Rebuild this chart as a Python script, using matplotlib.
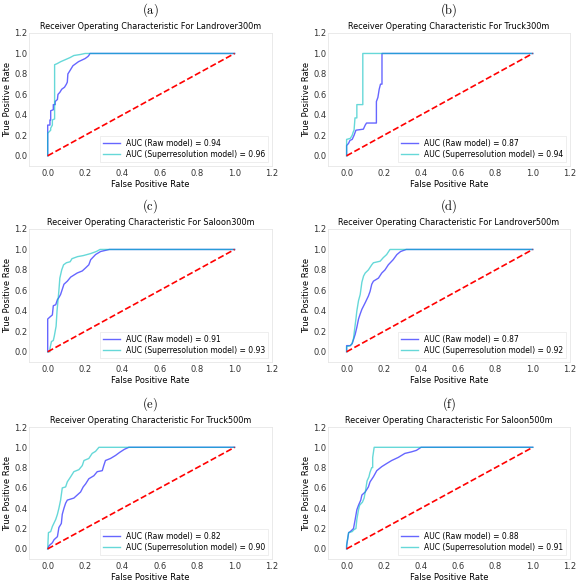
import matplotlib
matplotlib.use("Agg")
import matplotlib.pyplot as plt

panel_labels = ["(a)", "(b)", "(c)", "(d)", "(e)", "(f)"]
targets = ["Landrover300m", "Truck300m", "Saloon300m", "Landrover500m", "Truck500m", "Saloon500m"]
auc_raw = [0.94, 0.87, 0.91, 0.87, 0.82, 0.88]
auc_sr = [0.96, 0.94, 0.93, 0.92, 0.90, 0.91]

# (a) Landrover300m
fpr_raw_a = [0, 0, 0.012, 0.012, 0.016, 0.016, 0.03, 0.03, 0.04, 0.04, 0.052, 0.055, 0.065, 0.075, 0.09, 0.1, 0.105, 0.108, 0.115, 0.125, 0.135, 0.15, 0.165, 0.2, 0.215, 0.22, 0.226, 1]
tpr_raw_a = [0, 0.30, 0.30, 0.35, 0.35, 0.44, 0.45, 0.5, 0.5, 0.53, 0.55, 0.6, 0.62, 0.65, 0.67, 0.7, 0.72, 0.8, 0.82, 0.85, 0.88, 0.9, 0.92, 0.95, 0.97, 0.98, 1.0, 1]
fpr_sr_a = [0, 0, 0.016, 0.016, 0.025, 0.025, 0.037, 0.037, 0.05, 0.07, 0.095, 0.12, 0.14, 0.175, 0.2, 1]
tpr_sr_a = [0, 0.22, 0.25, 0.27, 0.3, 0.35, 0.36, 0.89, 0.9, 0.92, 0.94, 0.96, 0.98, 0.99, 1.0, 1]

# (b) Truck300m
fpr_raw_b = [0, 0, 0.01, 0.018, 0.03, 0.04, 0.05, 0.09, 0.1, 0.107, 0.16, 0.16, 0.168, 0.175, 0.182, 0.19, 0.19, 1]
tpr_raw_b = [0, 0.1, 0.12, 0.15, 0.16, 0.2, 0.25, 0.26, 0.3, 0.32, 0.32, 0.53, 0.57, 0.65, 0.7, 0.7, 1.0, 1]
fpr_sr_b = [0, 0, 0.02, 0.03, 0.035, 0.04, 0.045, 0.055, 0.055, 0.087, 0.087, 1]
tpr_sr_b = [0, 0.16, 0.17, 0.2, 0.23, 0.25, 0.37, 0.37, 0.5, 0.5, 1.0, 1]

# (c) Saloon300m
fpr_raw_c = [0, 0, 0.012, 0.025, 0.03, 0.043, 0.052, 0.06, 0.069, 0.078, 0.087, 0.105, 0.123, 0.158, 0.185, 0.203, 0.22, 0.23, 0.256, 0.283, 0.33, 1]
tpr_raw_c = [0, 0.32, 0.34, 0.36, 0.45, 0.46, 0.51, 0.53, 0.56, 0.61, 0.66, 0.69, 0.73, 0.77, 0.79, 0.82, 0.85, 0.9, 0.95, 0.98, 1.0, 1]
fpr_sr_c = [0, 0.012, 0.012, 0.02, 0.03, 0.035, 0.045, 0.05, 0.055, 0.06, 0.065, 0.075, 0.085, 0.1, 0.12, 0.13, 0.16, 0.19, 0.23, 0.26, 0.28, 1]
tpr_sr_c = [0, 0.0, 0.03, 0.1, 0.11, 0.15, 0.25, 0.4, 0.5, 0.6, 0.72, 0.8, 0.85, 0.87, 0.88, 0.91, 0.93, 0.94, 0.96, 0.98, 1.0, 1]

# (d) Landrover500m
fpr_raw_d = [0, 0, 0.02, 0.03, 0.037, 0.046, 0.055, 0.064, 0.073, 0.082, 0.1, 0.117, 0.126, 0.135, 0.144, 0.171, 0.189, 0.206, 0.224, 0.25, 0.27, 0.29, 0.32, 1]
tpr_raw_d = [0, 0.06, 0.06, 0.08, 0.12, 0.17, 0.24, 0.32, 0.37, 0.415, 0.48, 0.545, 0.59, 0.66, 0.69, 0.72, 0.77, 0.8, 0.85, 0.9, 0.95, 0.98, 1.0, 1]
fpr_sr_d = [0, 0, 0.02, 0.029, 0.037, 0.043, 0.05, 0.055, 0.064, 0.073, 0.082, 0.091, 0.1, 0.117, 0.135, 0.144, 0.18, 0.197, 0.215, 0.233, 1]
tpr_sr_d = [0, 0.05, 0.06, 0.08, 0.13, 0.22, 0.32, 0.4, 0.5, 0.56, 0.68, 0.74, 0.77, 0.8, 0.85, 0.87, 0.885, 0.92, 0.95, 1.0, 1]

# (e) Truck500m
fpr_raw_e = [0, 0.007, 0.025, 0.034, 0.052, 0.06, 0.073, 0.078, 0.087, 0.096, 0.105, 0.14, 0.158, 0.176, 0.19, 0.203, 0.22, 0.247, 0.265, 0.292, 0.3, 0.309, 0.336, 0.363, 0.385, 0.41, 0.434, 1]
tpr_raw_e = [0, 0.03, 0.06, 0.09, 0.12, 0.21, 0.25, 0.34, 0.4, 0.45, 0.48, 0.5, 0.53, 0.56, 0.61, 0.64, 0.69, 0.72, 0.76, 0.77, 0.82, 0.87, 0.89, 0.92, 0.95, 0.98, 1.0, 1]
fpr_sr_e = [0, 0.004, 0.016, 0.025, 0.043, 0.052, 0.06, 0.069, 0.078, 0.096, 0.105, 0.123, 0.14, 0.167, 0.185, 0.194, 0.22, 0.238, 0.256, 0.274, 1]
tpr_sr_e = [0, 0.16, 0.17, 0.22, 0.29, 0.34, 0.4, 0.48, 0.6, 0.61, 0.66, 0.71, 0.76, 0.78, 0.82, 0.87, 0.89, 0.94, 0.96, 1.0, 1]

# (f) Saloon500m
fpr_raw_f = [0, 0, 0.011, 0.02, 0.037, 0.046, 0.055, 0.064, 0.076, 0.082, 0.1, 0.117, 0.126, 0.144, 0.162, 0.189, 0.215, 0.242, 0.277, 0.313, 0.348, 0.375, 0.4, 1]
tpr_raw_f = [0, 0.03, 0.16, 0.17, 0.2, 0.29, 0.385, 0.43, 0.48, 0.53, 0.56, 0.61, 0.66, 0.71, 0.77, 0.81, 0.84, 0.87, 0.9, 0.94, 0.955, 0.97, 1.0, 1]
fpr_sr_f = [0, 0, 0.011, 0.03, 0.04, 0.05, 0.055, 0.064, 0.07, 0.085, 0.094, 0.103, 0.11, 0.12, 0.125, 0.135, 0.14, 0.14, 0.148, 1]
tpr_sr_f = [0, 0.04, 0.16, 0.17, 0.19, 0.2, 0.29, 0.385, 0.43, 0.46, 0.5, 0.59, 0.67, 0.71, 0.75, 0.8, 0.8, 0.9, 1.0, 1]

raw_fprs = [fpr_raw_a, fpr_raw_b, fpr_raw_c, fpr_raw_d, fpr_raw_e, fpr_raw_f]
raw_tprs = [tpr_raw_a, tpr_raw_b, tpr_raw_c, tpr_raw_d, tpr_raw_e, tpr_raw_f]
sr_fprs = [fpr_sr_a, fpr_sr_b, fpr_sr_c, fpr_sr_d, fpr_sr_e, fpr_sr_f]
sr_tprs = [tpr_sr_a, tpr_sr_b, tpr_sr_c, tpr_sr_d, tpr_sr_e, tpr_sr_f]
ticks = [0.0, 0.2, 0.4, 0.6, 0.8, 1.0, 1.2]

W, H = 576, 581
fig = plt.figure(figsize=(W / 100, H / 100), dpi=100)

col_x = [(29, 272), (328, 570)]
row_y = [(33, 166), (229, 362), (427, 559)]

for i in range(6):
    r, c = divmod(i, 2)
    x0, x1 = col_x[c]
    y0, y1 = row_y[r]
    ax = fig.add_axes([x0 / W, 1 - y1 / H, (x1 - x0) / W, (y1 - y0) / H])
    ax.plot(raw_fprs[i], raw_tprs[i], color="b", alpha=0.6, lw=1.0,
            label="AUC (Raw model) = %0.2f" % auc_raw[i])
    ax.plot(sr_fprs[i], sr_tprs[i], color="c", alpha=0.6, lw=1.0,
            label="AUC (Superresolution model) = %0.2f" % auc_sr[i])
    ax.plot([0, 1], [0, 1], "r--", lw=1.2)
    ax.set_xlim(-0.1, 1.2)
    ax.set_ylim(-0.1, 1.2)
    ax.set_xticks(ticks)
    ax.set_yticks(ticks)
    ax.tick_params(axis="x", length=0, labelsize=6, pad=2, colors="#333333")
    ax.tick_params(axis="y", length=0, labelsize=6, pad=1, colors="#333333")
    for s in ax.spines.values():
        s.set_color("#e6e6e6")
        s.set_linewidth(0.6)
    ax.set_title("Receiver Operating Characteristic For " + targets[i], fontsize=5.9, pad=3)
    ax.set_xlabel("False Positive Rate", fontsize=6, labelpad=1.5)
    ax.set_ylabel("True Positive Rate", fontsize=6, labelpad=1.5)
    leg = ax.legend(loc="lower right", fontsize=5.5, frameon=True, fancybox=False,
                    handlelength=2.2, borderpad=0.4, labelspacing=0.3)
    leg.get_frame().set_edgecolor("#e6e6e6")
    leg.get_frame().set_linewidth(0.6)
    fig.text((x0 + x1) / 2 / W, 1 - (y0 - 23) / H, r"$\mathrm{%s}$" % panel_labels[i],
             ha="center", va="center", fontsize=9, math_fontfamily="cm")

fig.savefig("out.png", dpi=100)
